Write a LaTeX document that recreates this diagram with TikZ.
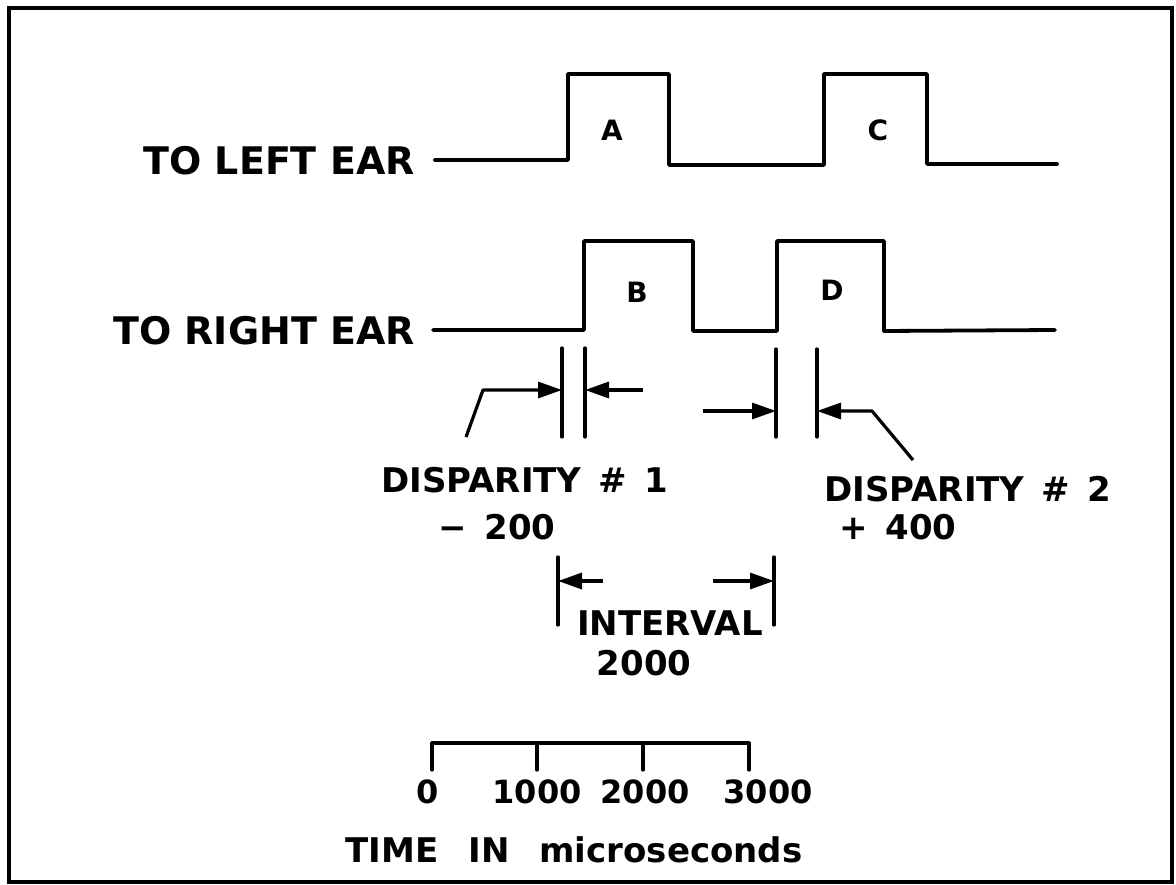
\documentclass[tikz,border=0pt]{standalone}
\usepackage{fontspec}
\setmainfont{DejaVu Sans}
\usetikzlibrary{arrows.meta}
\begin{document}
\begin{tikzpicture}[x=1pt,y=-1pt,
  wave/.style={line width=3.8pt, line join=round, line cap=round},
  bar/.style={line width=3.2pt, line cap=round},
  arr/.style={line width=3.2pt, line join=round, -{Triangle[length=24pt,width=16pt]}},
  lbl/.style={inner sep=0pt, font=\bfseries\fontsize{38}{40}\selectfont},
  sub/.style={inner sep=0pt, font=\bfseries\fontsize{34}{38}\selectfont},
  num/.style={inner sep=0pt, font=\bfseries\fontsize{32}{36}\selectfont},
  pulse/.style={inner sep=0pt, font=\bfseries\fontsize{28}{30}\selectfont},
]
\useasboundingbox (0,0) rectangle (1176,885);

% frame
\draw[line width=4pt] (9,8) rectangle (1172,882);

% channel labels
\node[lbl, anchor=east] (left)  at (415,161) {TO LEFT EAR};
\node[lbl, anchor=east] (right) at (415,331) {TO RIGHT EAR};

% pulse trains
\draw[wave] (435,160) -- (568,160) -- (568,74) -- (669,74) -- (669,165)
  -- (824,165) -- (824,74) -- (927,74) -- (927,164) -- (1057,164);
\draw[wave] (433,330) -- (584,330) -- (584,241) -- (693,241) -- (693,331)
  -- (777,331) -- (777,241) -- (884,241) -- (884,331) -- (1055,330);

\node[pulse] (A) at (612,130) {A};
\node[pulse] (C) at (878,130) {C};
\node[pulse] (B) at (637,292) {B};
\node[pulse] (D) at (832,290) {D};

% disparity #1
\coordinate (d1at) at (562,348); \coordinate (d1ab) at (562,437);
\coordinate (d1bt) at (585,348); \coordinate (d1bb) at (585,437);
\coordinate (d1l)  at (466,437); \coordinate (d1k)  at (483,390);
\coordinate (d1r)  at (643,390);
\draw[bar] (d1at) -- (d1ab);
\draw[bar] (d1bt) -- (d1bb);
\draw[arr] (d1l) -- (d1k) -- (d1at |- d1k);
\draw[arr] (d1r) -- (d1bt |- d1r);
\node[sub] (disp1) at (525,480) {DISPARITY\, \#\, 1};
\node[sub] (val1)  at (497,527) {−\, 200};

% disparity #2
\coordinate (d2at) at (776,349); \coordinate (d2ab) at (776,437);
\coordinate (d2bt) at (817,349); \coordinate (d2bb) at (817,437);
\coordinate (d2l)  at (703,411);
\coordinate (d2k)  at (872,411); \coordinate (d2e) at (913,460);
\draw[bar] (d2at) -- (d2ab);
\draw[bar] (d2bt) -- (d2bb);
\draw[arr] (d2l) -- (d2at |- d2l);
\draw[arr] (d2e) -- (d2k) -- (d2bt |- d2k);
\node[sub] (disp2) at (968,489) {DISPARITY\, \#\, 2};
\node[sub] (val2)  at (898,527) {+\, 400};

% interval
\coordinate (iat) at (558,557); \coordinate (iab) at (558,625);
\coordinate (ibt) at (774,557); \coordinate (ibb) at (774,625);
\coordinate (ial) at (603,581); \coordinate (ibl) at (713,581);
\draw[bar] (iat) -- (iab);
\draw[bar] (ibt) -- (ibb);
\draw[arr] (ial) -- (iat |- ial);
\draw[arr] (ibl) -- (ibt |- ibl);
\node[sub] (int)  at (670,623) {INTERVAL};
\node[sub] (intv) at (644,663) {2000};

% time scale
\coordinate (s0) at (432,743); \coordinate (s1) at (537,743);
\coordinate (s2) at (643,743); \coordinate (s3) at (749,743);
\draw[bar, line join=round] ([yshift=-27pt]s0) -- (s0) -- (s3) -- ([yshift=-27pt]s3);
\draw[bar] (s1) -- ([yshift=-27pt]s1);
\draw[bar] (s2) -- ([yshift=-27pt]s2);
\node[num] (t0) at (428,792) {0};
\node[num] (t1) at (537,792) {1000};
\node[num] (t2) at (645,792) {2000};
\node[num] (t3) at (768,792) {3000};
\node[sub] (unit) at (574,850) {TIME\hspace{30pt}IN\hspace{30pt}microseconds};
\end{tikzpicture}
\end{document}
